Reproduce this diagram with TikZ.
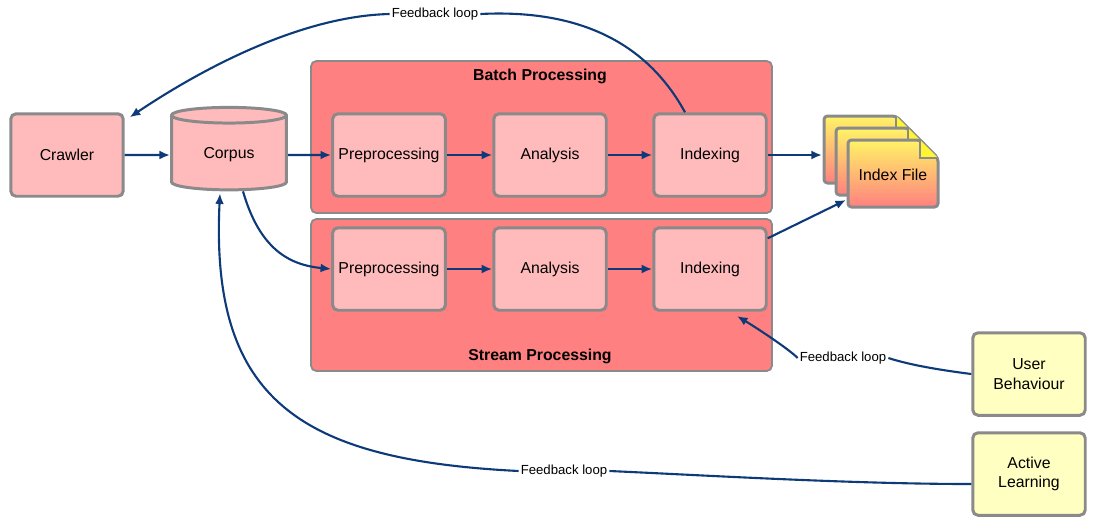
\documentclass[tikz,border=0pt]{standalone}
\usepackage{fontspec}
\setmainfont{Liberation Sans}
\usetikzlibrary{shapes.geometric,arrows.meta,positioning,calc}
\definecolor{boxpink}{HTML}{FFBBBB}
\definecolor{stagered}{HTML}{FF8080}
\definecolor{noteyel}{HTML}{FFFFC2}
\definecolor{flowblue}{HTML}{0D3A78}
\definecolor{edgegray}{HTML}{8A8A8A}
\tikzset{
  stepbox/.style={draw=edgegray,line width=1.7pt,fill=boxpink,rounded corners=3pt,
    minimum width=2.25cm,minimum height=1.65cm,font=\fontsize{9}{11}\selectfont,align=center},
  note/.style={stepbox,fill=noteyel},
  stage/.style={draw=edgegray,line width=1pt,fill=stagered,rounded corners=3pt},
  flow/.style={draw=flowblue,line width=1.2pt,-{Latex[length=6pt,width=5pt]}},
  fbtext/.style={font=\fontsize{7.5}{9}\selectfont,inner sep=1pt}
}
\begin{document}
\begin{tikzpicture}[x=0.02cm,y=-0.02cm]
    \useasboundingbox (0,0) rectangle (1098,529);
    % Stages
    \draw[stage] (311,61) rectangle (772,213);
    \draw[stage] (311,219) rectangle (772,371);
    \node[font=\bfseries\fontsize{9}{11}\selectfont] (batch) at (540,76) {Batch Processing};
    \node[font=\bfseries\fontsize{9}{11}\selectfont] (stream) at (540,356) {Stream Processing};

    % Nodes
    \node[stepbox] (crawler) at (67,155) {Crawler};
    \node[draw=edgegray,line width=1.7pt,fill=boxpink,cylinder,shape border rotate=90,
      aspect=0.25,minimum width=2.3cm,minimum height=1.65cm,
      font=\fontsize{9}{11}\selectfont] (corpus) at (229,155) {Corpus};
    \node[stepbox] (prep1) at (389,155) {Preprocessing};
    \node[stepbox] (ana1) at (550,155) {Analysis};
    \node[stepbox] (idx1) at (710,155) {Indexing};
    \node[stepbox] (prep2) at (389,269) {Preprocessing};
    \node[stepbox] (ana2) at (550,269) {Analysis};
    \node[stepbox] (idx2) at (710,269) {Indexing};
    \node[note] (user) at (1029,374) {User\\Behaviour};
    \node[note] (active) at (1029,474) {Active\\Learning};

    % Index file pages
    \foreach \d in {24,12,0}{
      \shade[top color=yellow!85!orange!60,bottom color=stagered,draw=edgegray,line width=1.7pt,rounded corners=2pt]
        (848-\d,140-\d) -- (920-\d,140-\d) -- (938-\d,158-\d) -- (938-\d,207-\d) -- (848-\d,207-\d) -- cycle;
      \draw[edgegray,line width=1.2pt,fill=yellow!80] (920-\d,140-\d) -- (920-\d,158-\d) -- (938-\d,158-\d);
    }
    \node[font=\fontsize{9}{11}\selectfont] (file) at (893,175) {Index File};
    \coordinate (fileIn) at (846,174);
    \coordinate (fileIn2) at (846,200);

    % Feedback labels
    \node[fbtext] (fb1) at (435,14) {Feedback loop};
    \node[fbtext] (fb2) at (843,358) {Feedback loop};
    \node[fbtext] (fb3) at (564,471) {Feedback loop};

    % Straight flows
    \draw[flow] (crawler) -- (corpus);
    \draw[flow] (corpus.east) -- (prep1);
    \draw[flow] (prep1) -- (ana1);
    \draw[flow] (ana1) -- (idx1);
    \draw[flow] (idx1.east) -- ($(fileIn)+(-24,-19)$);
    \draw[flow] (prep2) -- (ana2);
    \draw[flow] (ana2) -- (idx2);
    \draw[flow] ($(idx2.north east)+(0,12)$) -- (fileIn2);
    \draw[flow] ($(corpus.south)+(14,0)$) .. controls (260,250) and (290,265) .. (prep2.west);

    % Feedback loops
    \draw[draw=flowblue,line width=1.2pt] ($(idx1.north)+(-25,0)$) .. controls (640,30) and (560,10) .. (fb1.east);
    \draw[flow] (fb1.west) .. controls (300,16) and (200,70) .. ($(crawler.north east)+(5,5)$);
    \draw[draw=flowblue,line width=1.2pt] (user.west) .. controls (940,370) and (910,365) .. (fb2.east);
    \draw[flow] (fb2.west) .. controls (790,350) and (760,330) .. (737,316);
    \draw[draw=flowblue,line width=1.2pt] ($(active.west)+(0,10)$) .. controls (850,484) and (700,475) .. (fb3.east);
    \draw[flow] (fb3.west) .. controls (300,460) and (210,400) .. ($(corpus.south)+(-9,2)$);
\end{tikzpicture}
\end{document}
